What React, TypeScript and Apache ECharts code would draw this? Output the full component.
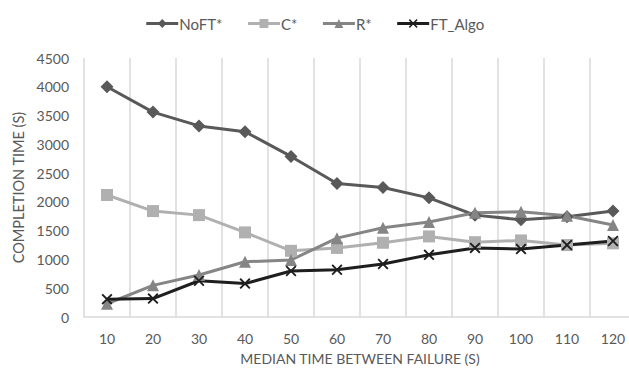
import React, { useEffect, useRef } from "react";
import * as echarts from "echarts";

const categories = ["10", "20", "30", "40", "50", "60", "70", "80", "90", "100", "110", "120"];
const noft = [4000, 3560, 3320, 3220, 2790, 2320, 2250, 2070, 1770, 1690, 1740, 1840];
const cStar = [2120, 1840, 1770, 1470, 1150, 1200, 1290, 1400, 1300, 1330, 1250, 1280];
const rStar = [230, 550, 730, 960, 990, 1370, 1550, 1650, 1810, 1830, 1760, 1600];
const ftAlgo = [310, 320, 630, 580, 800, 820, 920, 1080, 1200, 1180, 1250, 1320];
const seriesNames = ["NoFT*", "C*", "R*", "FT_Algo"];

const CROSS = "path://M0,1.2 L1.2,0 L5,3.8 L8.8,0 L10,1.2 L6.2,5 L10,8.8 L8.8,10 L5,6.2 L1.2,10 L0,8.8 L3.8,5 Z";
const FONT = "Lato";
const TXT = "#595959";

export default function App() {
  const ref = useRef<HTMLDivElement>(null);
  useEffect(() => {
    if (!ref.current) return;
    const chart = echarts.init(ref.current, undefined, { renderer: "svg" });
    const mk = (name: string, data: number[], color: string, symbol: string, size: number) => ({
      name,
      type: "line",
      data,
      symbol,
      symbolSize: size,
      lineStyle: { color, width: 3 },
      itemStyle: { color },
      emphasis: { disabled: true },
    });
    chart.setOption({
      animation: false,
      textStyle: { fontFamily: FONT },
      legend: {
        top: 11,
        left: "center",
        itemWidth: 32,
        itemHeight: 11,
        itemGap: 24,
        data: seriesNames,
        lineStyle: { width: 3 },
        textStyle: { color: TXT, fontSize: 15, fontFamily: FONT, padding: [0, 0, 0, -4] },
      },
      grid: { left: 84, right: -7, top: 58, bottom: 51, outerBoundsMode: "none" },
      xAxis: {
        type: "category",
        data: categories,
        boundaryGap: true,
        name: "MEDIAN TIME BETWEEN FAILURE (S)",
        nameLocation: "middle",
        nameGap: 34,
        nameTextStyle: { color: TXT, fontSize: 14, fontFamily: FONT, lineHeight: 14 },
        axisLine: { lineStyle: { color: "#d9d9d9", width: 1.5 } },
        axisTick: { show: false },
        axisLabel: { color: TXT, fontSize: 14, margin: 14, fontFamily: FONT },
        splitLine: { show: true, lineStyle: { color: "#d9d9d9", width: 1.5 } },
      },
      yAxis: {
        type: "value",
        min: 0,
        max: 4500,
        interval: 500,
        name: "COMPLETION TIME (S)",
        nameLocation: "middle",
        nameGap: 53,
        nameTextStyle: { color: TXT, fontSize: 14.5, fontFamily: FONT },
        axisLine: { show: false },
        axisTick: { show: false },
        axisLabel: { color: TXT, fontSize: 14, margin: 15, fontFamily: FONT, formatter: (v: number) => String(v) },
        splitLine: { show: false },
      },
      series: [
        mk("NoFT*", noft, "#595959", "diamond", 13),
        mk("C*", cStar, "#b0b0b0", "rect", 12),
        mk("R*", rStar, "#858585", "triangle", 12),
        mk("FT_Algo", ftAlgo, "#1e1e1e", CROSS, 11),
      ],
    });
    return () => chart.dispose();
  }, []);
  return <div ref={ref} style={{ width: 629, height: 368, position: "absolute", left: 0, top: 0 }} />;
}
